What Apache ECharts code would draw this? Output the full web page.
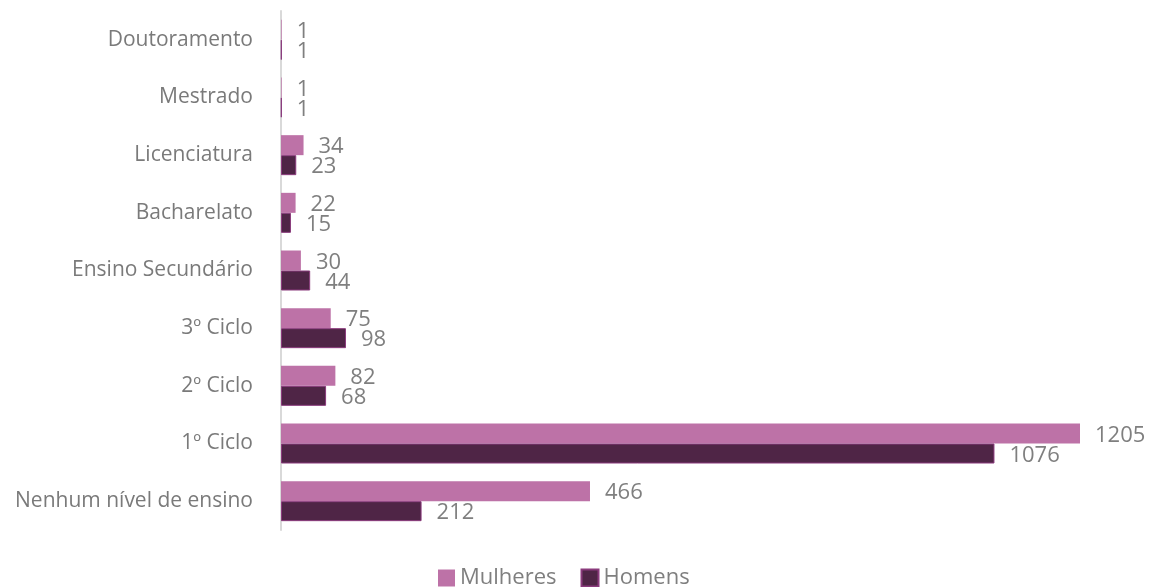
<!DOCTYPE html>
<html><head><meta charset="utf-8">
<script src="https://cdn.jsdelivr.net/npm/echarts@6/dist/echarts.min.js"></script>
<style>html,body{margin:0;padding:0;background:#fff}#c{width:1153px;height:587px}</style>
</head><body><div id="c"></div>
<script>
const categories = ['Nenhum nível de ensino','1º Ciclo','2º Ciclo','3º Ciclo','Ensino Secundário','Bacharelato','Licenciatura','Mestrado','Doutoramento'];
const mulheres = [466,1205,82,75,30,22,34,1,1];
const homens = [212,1076,68,98,44,15,23,1,1];
const seriesNames = ['Mulheres','Homens'];

const FONT = 'Open Sans';
const chart = echarts.init(document.getElementById('c'));
const lbl = {show:true, position:'right', distance:15, offset:[0,2], color:'#7f7f7f', fontSize:22, fontFamily:FONT};
chart.setOption({
  animation:false,
  textStyle:{fontFamily:FONT},
  grid:{left:281, right:73, top:11, bottom:57},
  legend:{top:567, left:438, padding:0, itemWidth:17, itemHeight:17, itemGap:24, icon:'rect',
    textStyle:{color:'#7f7f7f', fontSize:22, fontFamily:FONT},
    data:seriesNames},
  xAxis:{type:'value', min:0, max:1205, show:false},
  yAxis:{type:'category', data:categories,
    axisLine:{lineStyle:{color:'#d9d9d9', width:2}},
    axisTick:{show:false},
    axisLabel:{color:'#7a7a7a', fontSize:21, fontFamily:FONT, margin:28}},
  series:[
    {name:seriesNames[0], type:'bar', data:mulheres, barWidth:20, barGap:'0%',
      itemStyle:{color:'#bd72a7'}, label:Object.assign({}, lbl)},
    {name:seriesNames[1], type:'bar', data:homens, barWidth:20,
      itemStyle:{color:'#4f2546', borderColor:'#8a3a7c', borderWidth:1}, label:Object.assign({}, lbl)}
  ]
});
</script></body></html>
